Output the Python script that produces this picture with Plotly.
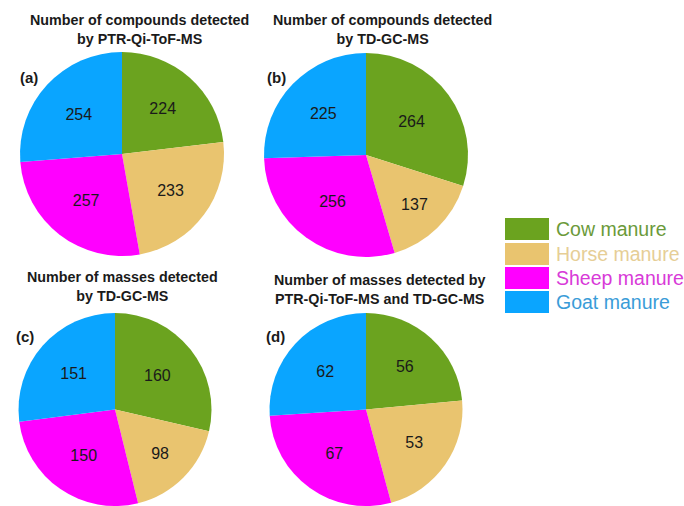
import plotly.graph_objects as go

W, H = 684, 506

categories = ["Cow manure", "Horse manure", "Sheep manure", "Goat manure"]
values_a = [224, 233, 257, 254]
values_b = [264, 137, 256, 225]
values_c = [160, 98, 150, 151]
values_d = [56, 53, 67, 62]
titles = [
    "Number of compounds detected<br>by PTR-Qi-ToF-MS",
    "Number of compounds detected<br>by TD-GC-MS",
    "Number of masses detected<br>by TD-GC-MS",
    "Number of masses detected by<br>PTR-Qi-ToF-MS and TD-GC-MS",
]
panel_labels = ["(a)", "(b)", "(c)", "(d)"]

slice_colors = ["#6BA31F", "#E9C46F", "#FF00FF", "#0AA5FF"]
legend_text_colors = ["#6B9A3A", "#E6CE96", "#D83AD8", "#3A9CD8"]

def px(x):
    return x / W

def py(y):
    return 1 - y / H

# pie boxes in pixel coords (left, top, right, bottom)
boxes = [
    (20, 52, 224, 256),
    (264, 53, 468, 257),
    (14, 313, 216, 506),
    (264, 313, 468, 506),
]
all_values = [values_a, values_b, values_c, values_d]

fig = go.Figure()
for vals, (l, t, r, b) in zip(all_values, boxes):
    fig.add_trace(go.Pie(
        labels=categories,
        values=vals,
        sort=False,
        direction="clockwise",
        rotation=0,
        marker=dict(colors=slice_colors, line=dict(width=0)),
        textinfo="value",
        textposition="inside",
        insidetextorientation="horizontal",
        textfont=dict(family="Liberation Sans, Arial", size=16, color="#1a1a1a"),
        domain=dict(x=[px(l), px(r)], y=[py(b), py(t)]),
        showlegend=False,
        hoverinfo="label+value",
    ))

annotations = []
title_pos = [(139, 29), (382, 29), (122, 286), (379, 289)]
for txt, (x, y) in zip(titles, title_pos):
    annotations.append(dict(
        text="<b>" + txt + "</b>", x=px(x), y=py(y), xref="paper", yref="paper",
        xanchor="center", yanchor="middle", showarrow=False, align="center",
        font=dict(family="Liberation Sans, Arial", size=14.3, color="#1a1a1a"),
    ))

label_pos = [(18, 77), (265, 77), (14, 336), (264, 336)]
for txt, (x, y) in zip(panel_labels, label_pos):
    annotations.append(dict(
        text="<b>" + txt + "</b>", x=px(x), y=py(y), xref="paper", yref="paper",
        xanchor="left", yanchor="middle", showarrow=False,
        font=dict(family="Liberation Sans, Arial", size=15, color="#1a1a1a"),
    ))

shapes = []
row_tops = [218, 243, 267, 291]
for cat, col, tcol, top in zip(categories, slice_colors, legend_text_colors, row_tops):
    shapes.append(dict(
        type="rect", xref="paper", yref="paper",
        x0=px(505), x1=px(549), y0=py(top + 22), y1=py(top),
        fillcolor=col, line=dict(width=0),
    ))
    annotations.append(dict(
        text=cat, x=px(554), y=py(top + 11), xref="paper", yref="paper",
        xanchor="left", yanchor="middle", showarrow=False,
        font=dict(family="Liberation Sans, Arial", size=19.5, color=tcol),
    ))

fig.update_layout(
    width=W, height=H,
    margin=dict(l=0, r=0, t=0, b=0),
    paper_bgcolor="white", plot_bgcolor="white",
    annotations=annotations, shapes=shapes,
    showlegend=False,
)

fig.write_html("out.html")
